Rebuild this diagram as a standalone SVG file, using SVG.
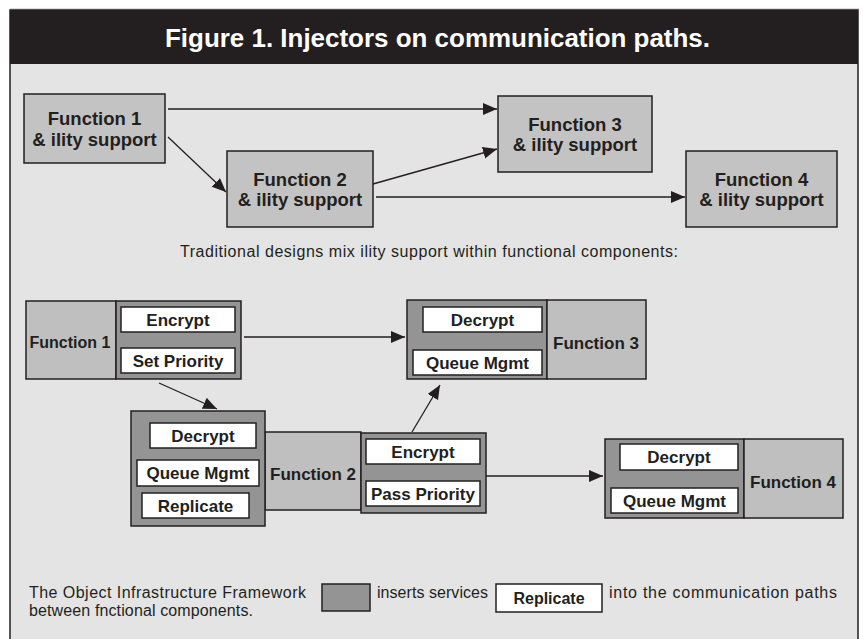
<svg xmlns="http://www.w3.org/2000/svg" width="863" height="639" viewBox="0 0 863 639">
<defs>
<style>
.frame{fill:#e4e4e4;stroke:#231f20;stroke-width:1.5}
.hdr{fill:#231f20}
.title{font-family:"Liberation Sans",Arial,sans-serif;font-weight:bold;font-size:26px;fill:#ffffff}
.fbox{fill:#c3c3c3;stroke:#231f20;stroke-width:1.5}
.flight{fill:#bfbfbf;stroke:#231f20;stroke-width:1.5}
.fdark{fill:#949494;stroke:#231f20;stroke-width:1.5}
.svc{fill:#ffffff;stroke:#231f20;stroke-width:1.5}
.lbl{font-family:"Liberation Sans",Arial,sans-serif;font-weight:bold;font-size:18.5px;fill:#231f20;text-anchor:middle}
.sl{font-family:"Liberation Sans",Arial,sans-serif;font-weight:bold;font-size:17px;fill:#231f20;text-anchor:middle}
.txt{font-family:"Liberation Sans",Arial,sans-serif;font-size:16px;fill:#231f20}
.conn{stroke:#231f20;stroke-width:1.3;fill:none;marker-end:url(#ah)}
</style>
<marker id="ah" markerUnits="userSpaceOnUse" markerWidth="15" markerHeight="13" refX="14" refY="6" orient="auto">
<path d="M0,0 L14,6 L0,12 z" fill="#231f20"/>
</marker>
</defs>
<rect x="0" y="0" width="863" height="639" fill="#ffffff"/>
<line x1="10" y1="9" x2="859" y2="9" stroke="#bbbbbb" stroke-width="1"/>
<rect class="frame" x="10" y="10" width="848" height="640"/>
<rect class="hdr" x="10" y="10" width="848" height="54"/>
<text class="title" x="165" y="47" textLength="545" lengthAdjust="spacingAndGlyphs">Figure 1. Injectors on communication paths.</text>

<g id="connectors">
<line class="conn" x1="168" y1="109" x2="497" y2="109"/>
<line class="conn" x1="168" y1="137" x2="226" y2="192"/>
<line class="conn" x1="373" y1="184" x2="497" y2="149"/>
<line class="conn" x1="376" y1="197" x2="685" y2="197"/>
<line class="conn" x1="244" y1="337" x2="405" y2="337"/>
<line class="conn" x1="159" y1="383" x2="217" y2="409"/>
<line class="conn" x1="412" y1="432" x2="440" y2="385"/>
<line class="conn" x1="486" y1="476" x2="603" y2="476"/>
</g>

<g id="top-f1">
<rect class="fbox" x="24" y="94" width="141" height="69"/>
<text class="lbl" x="94.5" y="125">Function 1</text>
<text class="lbl" x="94.5" y="146">&amp; ility support</text>
</g>
<g id="top-f2">
<rect class="fbox" x="227" y="151" width="146" height="76"/>
<text class="lbl" x="300" y="186">Function 2</text>
<text class="lbl" x="300" y="206">&amp; ility support</text>
</g>
<g id="top-f3">
<rect class="fbox" x="498" y="96" width="154" height="76"/>
<text class="lbl" x="575" y="131">Function 3</text>
<text class="lbl" x="575" y="151">&amp; ility support</text>
</g>
<g id="top-f4">
<rect class="fbox" x="686" y="151" width="151" height="76"/>
<text class="lbl" x="761.5" y="186">Function 4</text>
<text class="lbl" x="761.5" y="206">&amp; ility support</text>
</g>

<text class="txt" x="180" y="257" textLength="498" lengthAdjust="spacing">Traditional designs mix ility support within functional components:</text>

<g id="bot-f1">
<rect class="flight" x="26" y="301" width="90" height="78"/>
<rect class="fdark" x="116" y="301" width="125" height="78"/>
<rect class="svc" x="121" y="307" width="114" height="25"/>
<rect class="svc" x="121" y="348" width="114" height="25"/>
<text class="sl" x="178" y="325.5">Encrypt</text>
<text class="sl" x="178" y="366.5">Set Priority</text>
<text class="sl" x="70" y="348" style="font-size:16px">Function 1</text>
</g>

<g id="bot-f2">
<rect class="flight" x="265" y="432" width="96" height="78"/>
<rect class="fdark" x="131" y="411" width="134" height="115"/>
<rect class="svc" x="150" y="423" width="106" height="25"/>
<rect class="svc" x="137" y="460" width="122" height="26"/>
<rect class="svc" x="142" y="493" width="107" height="25"/>
<text class="sl" x="203" y="441.5">Decrypt</text>
<text class="sl" x="198" y="479">Queue Mgmt</text>
<text class="sl" x="195.5" y="511.5">Replicate</text>
<text class="sl" x="313" y="480">Function 2</text>
</g>

<g id="bot-enc">
<rect class="fdark" x="361" y="433" width="125" height="80"/>
<rect class="svc" x="366" y="439" width="114" height="25"/>
<rect class="svc" x="366" y="481" width="114" height="25"/>
<text class="sl" x="423" y="457.5">Encrypt</text>
<text class="sl" x="423" y="499.5">Pass Priority</text>
</g>

<g id="bot-f3">
<rect class="fdark" x="407" y="300" width="140" height="79"/>
<rect class="flight" x="547" y="300" width="99" height="79"/>
<rect class="svc" x="423" y="307" width="119" height="25"/>
<rect class="svc" x="413" y="350" width="129" height="25"/>
<text class="sl" x="482.5" y="325.5">Decrypt</text>
<text class="sl" x="477.5" y="368.5">Queue Mgmt</text>
<text class="sl" x="596" y="349">Function 3</text>
</g>

<g id="bot-f4">
<rect class="fdark" x="605" y="439" width="139" height="79"/>
<rect class="flight" x="744" y="439" width="99" height="79"/>
<rect class="svc" x="620" y="444" width="118" height="26"/>
<rect class="svc" x="611" y="488" width="127" height="25"/>
<text class="sl" x="679" y="463">Decrypt</text>
<text class="sl" x="674.5" y="506.5">Queue Mgmt</text>
<text class="sl" x="793" y="488">Function 4</text>
</g>

<g id="legend">
<text class="txt" x="29" y="598" textLength="277" lengthAdjust="spacing">The Object Infrastructure Framework</text>
<rect class="fdark" x="322" y="584" width="48" height="27"/>
<text class="txt" x="377" y="598" textLength="111" lengthAdjust="spacing">inserts services</text>
<rect class="svc" x="496" y="584" width="106" height="28"/>
<text class="sl" x="549" y="604" style="font-size:16px">Replicate</text>
<text class="txt" x="609" y="598" textLength="228" lengthAdjust="spacing">into the communication paths</text>
<text class="txt" x="29" y="616" textLength="224" lengthAdjust="spacing">between fnctional components.</text>
</g>
</svg>
